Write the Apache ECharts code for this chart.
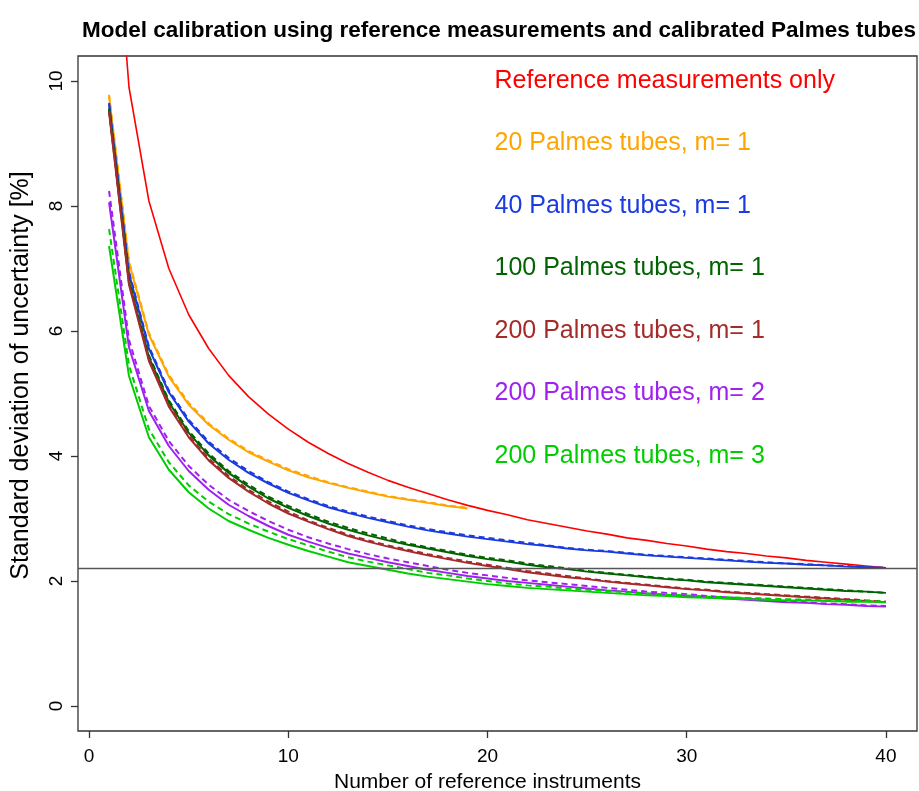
<!DOCTYPE html>
<html>
<head>
<meta charset="utf-8">
<script src="https://cdn.jsdelivr.net/npm/echarts@6/dist/echarts.min.js"></script>
<style>html,body{margin:0;padding:0;background:#fff;}#c{width:919px;height:791px;}</style>
</head>
<body>
<div id="c"></div>
<script>
var nRef = [1,2,3,4,5,6,7,8,9,10,11,12,13,14,15,16,17,18,19,20,21,22,23,24,25,26,27,28,29,30,31,32,33,34,35,36,37,38,39,40];
var xTicks = [0,10,20,30,40];
var yTicks = [0,2,4,6,8,10];
var refLine = 2.2;

var refOnly = [14.00,9.90,8.08,7.00,6.26,5.72,5.29,4.95,4.67,4.43,4.22,4.04,3.88,3.74,3.61,3.50,3.40,3.30,3.21,3.13,3.06,2.98,2.92,2.86,2.80,2.75,2.69,2.65,2.60,2.56,2.51,2.47,2.44,2.40,2.37,2.33,2.30,2.27,2.24,2.21];
var p20m1 = [9.76,7.09,5.94,5.27,4.82,4.50,4.26,4.06,3.91,3.77,3.66,3.57,3.49,3.42,3.35,3.30,3.25,3.20,3.16];
var p20m1d = [9.78,7.12,5.97,5.30,4.85,4.52,4.28,4.08,3.93,3.79,3.68,3.58,3.50,3.43,3.36,3.31,3.26,3.21,3.17];
var p40m1 = [9.65,6.92,5.72,5.02,4.55,4.20,3.94,3.73,3.56,3.41,3.29,3.18,3.09,3.01,2.94,2.87,2.81,2.76,2.71,2.67,2.63,2.59,2.56,2.52,2.49,2.47,2.44,2.41,2.39,2.37,2.35,2.33,2.31,2.29,2.28,2.26,2.25,2.23,2.22,2.21];
var p40m1d = [9.63,6.95,5.75,5.05,4.58,4.23,3.97,3.76,3.58,3.43,3.31,3.20,3.11,3.03,2.96,2.89,2.83,2.78,2.73,2.69,2.65,2.61,2.57,2.53,2.50,2.48,2.45,2.42,2.40,2.38,2.36,2.34,2.32,2.30,2.28,2.27,2.25,2.24,2.22,2.21];
var p100m1 = [9.55,6.79,5.58,4.86,4.37,4.01,3.73,3.51,3.32,3.17,3.04,2.92,2.82,2.73,2.65,2.58,2.52,2.46,2.40,2.35,2.31,2.26,2.22,2.19,2.15,2.12,2.09,2.06,2.03,2.01,1.98,1.96,1.94,1.92,1.90,1.88,1.86,1.84,1.83,1.81];
var p100m1d = [9.56,6.82,5.61,4.89,4.40,4.04,3.76,3.54,3.35,3.20,3.07,2.95,2.85,2.76,2.68,2.60,2.54,2.48,2.42,2.37,2.33,2.28,2.24,2.20,2.16,2.13,2.10,2.07,2.04,2.02,1.99,1.97,1.95,1.93,1.91,1.89,1.87,1.85,1.83,1.81];
var p200m1 = [9.50,6.74,5.52,4.79,4.30,3.93,3.65,3.43,3.24,3.08,2.95,2.83,2.72,2.63,2.55,2.48,2.41,2.35,2.29,2.24,2.19,2.14,2.10,2.06,2.03,1.99,1.96,1.93,1.90,1.87,1.85,1.82,1.80,1.78,1.76,1.74,1.72,1.70,1.68,1.66];
var p200m1d = [9.52,6.77,5.55,4.82,4.33,3.96,3.68,3.46,3.27,3.11,2.97,2.85,2.74,2.65,2.57,2.50,2.43,2.37,2.31,2.26,2.21,2.16,2.12,2.08,2.04,2.00,1.97,1.94,1.91,1.88,1.86,1.83,1.81,1.79,1.77,1.75,1.73,1.71,1.69,1.67];
var p200m2 = [8.06,5.74,4.72,4.16,3.76,3.46,3.22,3.04,2.88,2.74,2.63,2.53,2.44,2.37,2.30,2.24,2.18,2.13,2.08,2.04,2.00,1.97,1.94,1.91,1.88,1.85,1.83,1.80,1.78,1.76,1.74,1.72,1.70,1.68,1.66,1.65,1.63,1.62,1.60,1.59];
var p200m2d = [8.24,5.86,4.80,4.24,3.84,3.54,3.30,3.12,2.96,2.82,2.70,2.60,2.51,2.43,2.36,2.30,2.24,2.18,2.13,2.09,2.05,2.01,1.98,1.95,1.92,1.89,1.86,1.83,1.81,1.79,1.76,1.74,1.72,1.70,1.68,1.66,1.64,1.63,1.61,1.60];
var p200m3 = [7.36,5.28,4.30,3.78,3.42,3.16,2.96,2.82,2.69,2.58,2.48,2.39,2.30,2.24,2.18,2.12,2.07,2.03,1.99,1.95,1.92,1.89,1.87,1.85,1.83,1.81,1.79,1.77,1.76,1.74,1.73,1.72,1.71,1.70,1.69,1.69,1.68,1.67,1.67,1.66];
var p200m3d = [7.63,5.45,4.43,3.90,3.53,3.27,3.07,2.92,2.79,2.67,2.57,2.47,2.38,2.31,2.25,2.19,2.13,2.09,2.04,2.00,1.96,1.93,1.91,1.88,1.86,1.84,1.82,1.80,1.78,1.77,1.75,1.74,1.73,1.72,1.71,1.70,1.69,1.68,1.68,1.67];

var legendLabels = ['Reference measurements only','20 Palmes tubes, m= 1','40 Palmes tubes, m= 1','100 Palmes tubes, m= 1','200 Palmes tubes, m= 1','200 Palmes tubes, m= 2','200 Palmes tubes, m= 3'];
var colors = ['#ff0000','#ffa500','#1a3be0','#006400','#a52a2a','#a020f0','#00cd00'];

var FONT = "'Liberation Sans', Arial, Helvetica, sans-serif";

function pairs(ys){ return ys.map(function(v,i){ return [nRef[i], v]; }); }
function lineSeries(name, ys, color, dashed, width){
  return {
    type:'line', name:name, data:pairs(ys), showSymbol:false, symbol:'none',
    lineStyle:{color:color, width:width||2, type: dashed ? [6,4] : 'solid', opacity:1},
    silent:true, z:2, clip:true
  };
}

var series = [
  lineSeries('Reference measurements only', refOnly, colors[0], false, 1.6),
  lineSeries('20 Palmes tubes, m= 1', p20m1, colors[1], false),
  lineSeries('20 Palmes tubes, m= 1 (b)', p20m1d, colors[1], true),
  lineSeries('40 Palmes tubes, m= 1', p40m1, colors[2], false),
  lineSeries('40 Palmes tubes, m= 1 (b)', p40m1d, colors[2], true),
  lineSeries('100 Palmes tubes, m= 1', p100m1, colors[3], false),
  lineSeries('100 Palmes tubes, m= 1 (b)', p100m1d, colors[3], true),
  lineSeries('200 Palmes tubes, m= 1', p200m1, colors[4], false),
  lineSeries('200 Palmes tubes, m= 1 (b)', p200m1d, colors[4], true),
  lineSeries('200 Palmes tubes, m= 2', p200m2, colors[5], false),
  lineSeries('200 Palmes tubes, m= 2 (b)', p200m2d, colors[5], true),
  lineSeries('200 Palmes tubes, m= 3', p200m3, colors[6], false),
  lineSeries('200 Palmes tubes, m= 3 (b)', p200m3d, colors[6], true)
];
series[0].markLine = {
  silent:true, symbol:['none','none'], animation:false,
  label:{show:false},
  lineStyle:{color:'#555', width:1.3, type:'solid'},
  data:[{yAxis: refLine}]
};
series.push({
  type:'scatter', silent:true, symbolSize:0, z:5,
  itemStyle:{opacity:1},
  data: legendLabels.map(function(t,i){
    return {name:t, value:[20.35, 10 - i], label:{color:colors[i]}};
  }),
  label:{show:true, position:'right', distance:0, formatter:'{b}', fontSize:25, fontFamily:FONT, opacity:1}
});

var chart = echarts.init(document.getElementById('c'), null, {renderer:'canvas'});
chart.setOption({
  animation:false,
  backgroundColor:'#ffffff',
  title:{
    text:'Model calibration using reference measurements and calibrated Palmes tubes',
    left:494, top:14, textAlign:'center',
    textStyle:{fontFamily:FONT, fontWeight:'bold', fontSize:22.5, color:'#000'}
  },
  grid:{left:78, right:2, top:56, bottom:60, show:true, borderColor:'#333', borderWidth:1.3, containLabel:false, outerBoundsMode:'none'},
  xAxis:{
    type:'value', min:-0.56, max:41.56,
    name:'Number of reference instruments', nameLocation:'middle', nameGap:41,
    nameTextStyle:{fontFamily:FONT, fontSize:21, color:'#000', padding:[0,20,0,0]},
    axisLine:{show:false, onZero:false},
    splitLine:{show:false},
    axisTick:{show:true, length:7, customValues:xTicks, lineStyle:{color:'#333', width:1.3}},
    axisLabel:{show:true, customValues:xTicks, margin:16, fontFamily:FONT, fontSize:19, color:'#000'}
  },
  yAxis:{
    type:'value', min:-0.4, max:10.4,
    name:'Standard deviation of uncertainty [%]', nameLocation:'middle', nameGap:44,
    nameTextStyle:{fontFamily:FONT, fontSize:25, color:'#000', padding:[0,0,0,36]},
    axisLine:{show:false, onZero:false},
    splitLine:{show:false},
    axisTick:{show:true, length:7, customValues:yTicks, lineStyle:{color:'#333', width:1.3}},
    axisLabel:{show:true, customValues:yTicks, rotate:90, margin:12, fontFamily:FONT, fontSize:19, color:'#000'}
  },
  series:series
});
</script>
</body>
</html>
